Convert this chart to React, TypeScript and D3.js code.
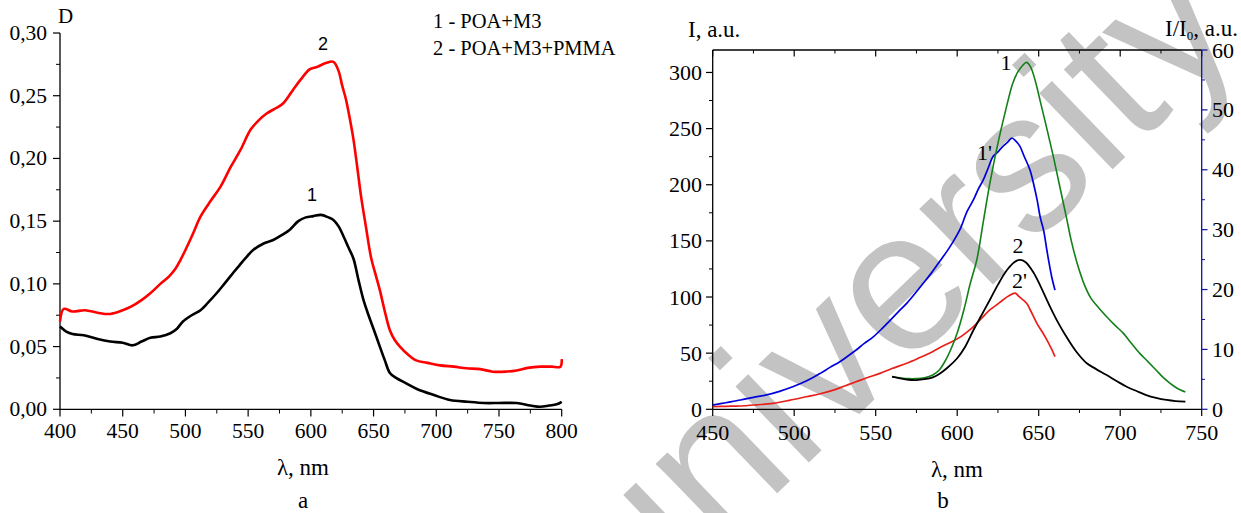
import React from "react";
import * as d3 from "d3";

// ---------- Panel a: absorption spectra ----------
const lamA1 = [400,405,410,419,430,440,450,458,465,472,480,488,493,498,505,512,518,525,531,538,544,549,554,562,570,577,583,590,596,602,608,614,618,622,626,630,634,638,642,646,650,655,659,663,668,676,685,698,711,725,738,750,764,775,783,790,796,800];
const dA1 = [0.066,0.062,0.060,0.059,0.056,0.054,0.053,0.051,0.054,0.057,0.058,0.0606,0.064,0.070,0.075,0.079,0.085,0.0927,0.100,0.1087,0.116,0.1217,0.127,0.132,0.135,0.139,0.143,0.150,0.153,0.154,0.155,0.153,0.151,0.146,0.138,0.129,0.120,0.103,0.087,0.075,0.064,0.050,0.039,0.029,0.025,0.0207,0.016,0.0114,0.0074,0.006,0.005,0.005,0.005,0.003,0.002,0.003,0.004,0.006];

const lamA2 = [400,403,410,420,430,440,450,457,465,472,480,487,492,496,500,506,512,520,528,536,544,552,558,565,572,578,586,592,599,605,612,618,622,625,628,631,634,637,640,644,648,652,655,659,663,667,671,677,684,693,703,714,724,735,745,755,764,773,783,792,799,800];
const dA2 = [0.070,0.080,0.078,0.079,0.077,0.076,0.079,0.082,0.087,0.0925,0.100,0.106,0.112,0.119,0.127,0.140,0.1536,0.166,0.1775,0.193,0.207,0.223,0.230,0.236,0.240,0.244,0.255,0.263,0.271,0.273,0.276,0.277,0.270,0.258,0.247,0.232,0.215,0.193,0.170,0.145,0.121,0.106,0.095,0.078,0.063,0.055,0.050,0.044,0.039,0.037,0.035,0.034,0.0327,0.032,0.030,0.030,0.031,0.033,0.034,0.034,0.034,0.040];

const aXTicks = [400,450,500,550,600,650,700,750,800];
const aYTicks = [0,0.05,0.10,0.15,0.20,0.25,0.30];
const aLegend = ["1 - POA+M3", "2 - POA+M3+PMMA"];

// ---------- Panel b: luminescence spectra ----------
// curve 1 (green) and 2 (black): left axis I, a.u.
const lamB1 = [560,565,570,575,580,585,589,593,596,600,604,608,612,616,620,625,630,634,637,640,642.5,645,648,651,655,659,663,667,670,674,678,682,687,692,697,702,707,712,717,722,727,733,737,740];
const iB1 = [29,28,27.3,27.3,28,30.5,35,44,53,68,88,112,133,167,201,237,268,290,300,306,309,305,292,274,250,225,198,171,150,128,111,99,90,82,74.5,67.6,58.5,49.8,42.5,35,27.5,20.5,17.2,15.5];

const lamB2 = [560,565,570,575,580,585,589,594,600,605,610,615,620,625,630,635,638.5,642,646.7,651,657,662,667,673,679.5,685,691.7,698,704,710,716,722,728.5,734,740];
const iB2 = [29,27.5,26.3,26,26.8,28.5,31.5,37,45.5,56,70.6,84,97.3,111,123,131,133,131,122,110,91.3,77,64.6,51.5,41,36,30.5,25,20.1,16.3,12.7,10.2,8.3,7.3,6.8];

// curve 1' (blue) and 2' (red): right axis I/I0, a.u.
const lamB1p = [450,458,467,475,483,491,499.5,508,516,522,528,533,538,543,548.5,554,559,564,569,574,579,584,589,594,598,602,606,610,613,616,619,622,625,628,631,633.5,636,638.5,641,644.6,647,649,651,653,655,656,658,660];
const rB1p = [0.7,1.1,1.55,2.0,2.4,3.0,3.8,4.8,6.0,7.0,7.95,8.9,9.9,11.0,12.1,13.5,14.9,16.3,17.7,19.3,21.0,22.7,24.6,26.5,28.2,30.2,33.0,35.0,36.8,38.3,40.3,42.2,43.0,43.9,44.6,45.3,44.8,43.9,42.3,40.0,37.5,35.0,32.0,29.9,26.6,25.0,22.1,19.9];

const lamB2p = [450,458,467,477,487,497,507.5,516,524,531,538,545,552.6,560,569,576,583,590,597.6,602,606,610,615,620,624,628,632,635.5,638,642.6,645,648.8,652,655,658,660];
const rB2p = [0.43,0.5,0.55,0.75,1.0,1.5,2.1,2.6,3.2,3.9,4.6,5.3,6.0,6.8,7.7,8.5,9.35,10.4,11.4,12.1,12.9,13.8,15.2,16.6,17.4,18.25,19.0,19.4,18.8,17.7,16.5,14.4,13.0,11.6,10.0,8.8];

const bXTicks = [450,500,550,600,650,700,750];
const bYLeftTicks = [0,50,100,150,200,250,300];
const bYRightTicks = [0,10,20,30,40,50,60];

const SERIF = "'Liberation Serif', 'Times New Roman', serif";
const SANS = "'Liberation Sans', Arial, sans-serif";

export default function App() {
  // scales panel a
  const xA = d3.scaleLinear().domain([400, 800]).range([60, 561.7]);
  const yA = d3.scaleLinear().domain([0, 0.3]).range([409.3, 33]);
  // scales panel b
  const xB = d3.scaleLinear().domain([450, 750]).range([712.7, 1201.7]);
  const yB = d3.scaleLinear().domain([0, 320]).range([409.3, 50]);
  const yR = d3.scaleLinear().domain([0, 60]).range([409.3, 50]);

  const lineA = d3.line<[number, number]>().x(d => xA(d[0])).y(d => yA(d[1])).curve(d3.curveCatmullRom.alpha(0.5));
  const lineBL = d3.line<[number, number]>().x(d => xB(d[0])).y(d => yB(d[1])).curve(d3.curveCatmullRom.alpha(0.5));
  const lineBR = d3.line<[number, number]>().x(d => xB(d[0])).y(d => yR(d[1])).curve(d3.curveCatmullRom.alpha(0.5));

  const zip = (a: number[], b: number[]) => a.map((v, i) => [v, b[i]] as [number, number]);
  const fmtA = (v: number) => d3.format(".2f")(v).replace(".", ",");

  const aXMinor = d3.range(425, 800, 50);
  const aYMinor = d3.range(0.025, 0.3, 0.05);
  const bXMinor = d3.range(475, 750, 50);
  const bYLMinor = d3.range(25, 320, 50);
  const bYRMinor = d3.range(5, 60, 10);

  const axisCol = "#000";
  const blueAx = "#10109a";
  const fsA = 21.5;
  const fsB = 22;
  const fsT = 23;

  // watermark
  const wmSize = 200;

  return (
    <svg width={1241} height={513} style={{ position: "absolute", left: 0, top: 0, background: "#fff" }}>
      <rect x={0} y={0} width={1241} height={513} fill="#fff" />

      {/* ===== Panel a ===== */}
      <g fontFamily={SERIF} fill="#000">
        {/* y axis */}
        <line x1={60} x2={60} y1={yA(0.3)} y2={yA(0)} stroke={axisCol} strokeWidth={1.3} />
        {aYTicks.map(t => (
          <g key={"ay" + t}>
            <line x1={53} x2={60} y1={yA(t)} y2={yA(t)} stroke={axisCol} strokeWidth={1.2} />
            <text x={47} y={yA(t) + 7} textAnchor="end" fontSize={fsA}>{fmtA(t)}</text>
          </g>
        ))}
        {aYMinor.map(t => (
          <line key={"aym" + t} x1={56} x2={60} y1={yA(t)} y2={yA(t)} stroke={axisCol} strokeWidth={1} />
        ))}
        {/* x axis */}
        <line x1={xA(400)} x2={xA(800)} y1={409.3} y2={409.3} stroke={axisCol} strokeWidth={1.3} />
        {aXTicks.map(t => (
          <g key={"ax" + t}>
            <line x1={xA(t)} x2={xA(t)} y1={409.3} y2={416.5} stroke={axisCol} strokeWidth={1.2} />
            <text x={xA(t)} y={438} textAnchor="middle" fontSize={fsA}>{t}</text>
          </g>
        ))}
        {aXMinor.map(t => (
          <line key={"axm" + t} x1={xA(t)} x2={xA(t)} y1={409.3} y2={413.5} stroke={axisCol} strokeWidth={1} />
        ))}
        <text x={58} y={23} fontSize={21}>D</text>
        <text x={303} y={475} textAnchor="middle" fontSize={fsT}>λ, nm</text>
        <text x={303} y={508} textAnchor="middle" fontSize={fsT}>a</text>
        <text x={433} y={28} fontSize={20.5}>{aLegend[0]}</text>
        <text x={433} y={55} fontSize={20.5}>{aLegend[1]}</text>
        {/* curves */}
        <path d={lineA(zip(lamA2, dA2)) || ""} fill="none" stroke="#ff0000" strokeWidth={2.6} strokeLinejoin="round" />
        <path d={lineA(zip(lamA1, dA1)) || ""} fill="none" stroke="#000" strokeWidth={2.6} strokeLinejoin="round" />
        <text x={323} y={50} textAnchor="middle" fontSize={18} fontFamily={SANS}>2</text>
        <text x={312} y={201} textAnchor="middle" fontSize={18} fontFamily={SANS}>1</text>
      </g>

      {/* ===== Panel b ===== */}
      {/* watermark below curves and axes */}
      <text
        transform={`translate(943,333) rotate(-44)`}
        textAnchor="middle"
        fontFamily={SANS}
        fontSize={wmSize}
        fill="#c3c3c3"
      >university</text>

      <g fontFamily={SERIF} fill="#000">
        {/* frame: left, top, bottom */}
        <line x1={712.7} x2={712.7} y1={50} y2={409.3} stroke={axisCol} strokeWidth={1.3} />
        <line x1={712.7} x2={1201.7} y1={50} y2={50} stroke={axisCol} strokeWidth={1.3} />
        <line x1={712.7} x2={1201.7} y1={409.3} y2={409.3} stroke={axisCol} strokeWidth={1.3} />
        {/* left axis ticks */}
        {bYLeftTicks.map(t => (
          <g key={"bl" + t}>
            <line x1={706} x2={712.7} y1={yB(t)} y2={yB(t)} stroke={axisCol} strokeWidth={1.2} />
            <text x={702} y={yB(t) + 7.5} textAnchor="end" fontSize={fsB}>{t}</text>
          </g>
        ))}
        {bYLMinor.map(t => (
          <line key={"blm" + t} x1={709} x2={712.7} y1={yB(t)} y2={yB(t)} stroke={axisCol} strokeWidth={1} />
        ))}
        {/* bottom + top axis ticks */}
        {bXTicks.map(t => (
          <g key={"bx" + t}>
            <line x1={xB(t)} x2={xB(t)} y1={409.3} y2={416} stroke={axisCol} strokeWidth={1.2} />
            <line x1={xB(t)} x2={xB(t)} y1={50} y2={56.5} stroke={axisCol} strokeWidth={1.2} />
            <text x={xB(t)} y={439.5} textAnchor="middle" fontSize={fsB}>{t}</text>
          </g>
        ))}
        {bXMinor.map(t => (
          <g key={"bxm" + t}>
            <line x1={xB(t)} x2={xB(t)} y1={409.3} y2={413} stroke={axisCol} strokeWidth={1} />
            <line x1={xB(t)} x2={xB(t)} y1={50} y2={53.5} stroke={axisCol} strokeWidth={1} />
          </g>
        ))}
        {/* right axis */}
        <line x1={1201.7} x2={1201.7} y1={50} y2={409.3} stroke={blueAx} strokeWidth={1.3} />
        {bYRightTicks.map(t => (
          <g key={"br" + t}>
            <line x1={1201.7} x2={1207.5} y1={yR(t)} y2={yR(t)} stroke={blueAx} strokeWidth={1.2} />
            <text x={1212} y={yR(t) + 7.5} fontSize={fsB}>{t}</text>
          </g>
        ))}
        {bYRMinor.map(t => (
          <line key={"brm" + t} x1={1201.7} x2={1205} y1={yR(t)} y2={yR(t)} stroke={blueAx} strokeWidth={1} />
        ))}
        {/* axis titles */}
        <text x={688} y={37} fontSize={fsT}>I, a.u.</text>
        <text x={1238} y={36} textAnchor="end" fontSize={fsT}>
          I/I<tspan fontSize={13} dy={4}>0</tspan><tspan dy={-4}>, a.u.</tspan>
        </text>
        <text x={957} y={477} textAnchor="middle" fontSize={fsT}>λ, nm</text>
        <text x={943} y={508} textAnchor="middle" fontSize={fsT}>b</text>

        {/* curves */}
        <path d={lineBR(zip(lamB1p, rB1p)) || ""} fill="none" stroke="#0000dd" strokeWidth={1.7} />
        <path d={lineBR(zip(lamB2p, rB2p)) || ""} fill="none" stroke="#e8201a" strokeWidth={1.7} />
        <path d={lineBL(zip(lamB1, iB1)) || ""} fill="none" stroke="#13801a" strokeWidth={1.6} />
        <path d={lineBL(zip(lamB2, iB2)) || ""} fill="none" stroke="#000" strokeWidth={1.8} />

        {/* curve labels */}
        <text x={1006} y={70} textAnchor="middle" fontSize={fsB}>1</text>
        <text x={977} y={160} fontSize={fsB}>1'</text>
        <text x={1018} y={253} textAnchor="middle" fontSize={fsB}>2</text>
        <text x={1012} y={288} fontSize={fsB}>2'</text>
      </g>
    </svg>
  );
}
